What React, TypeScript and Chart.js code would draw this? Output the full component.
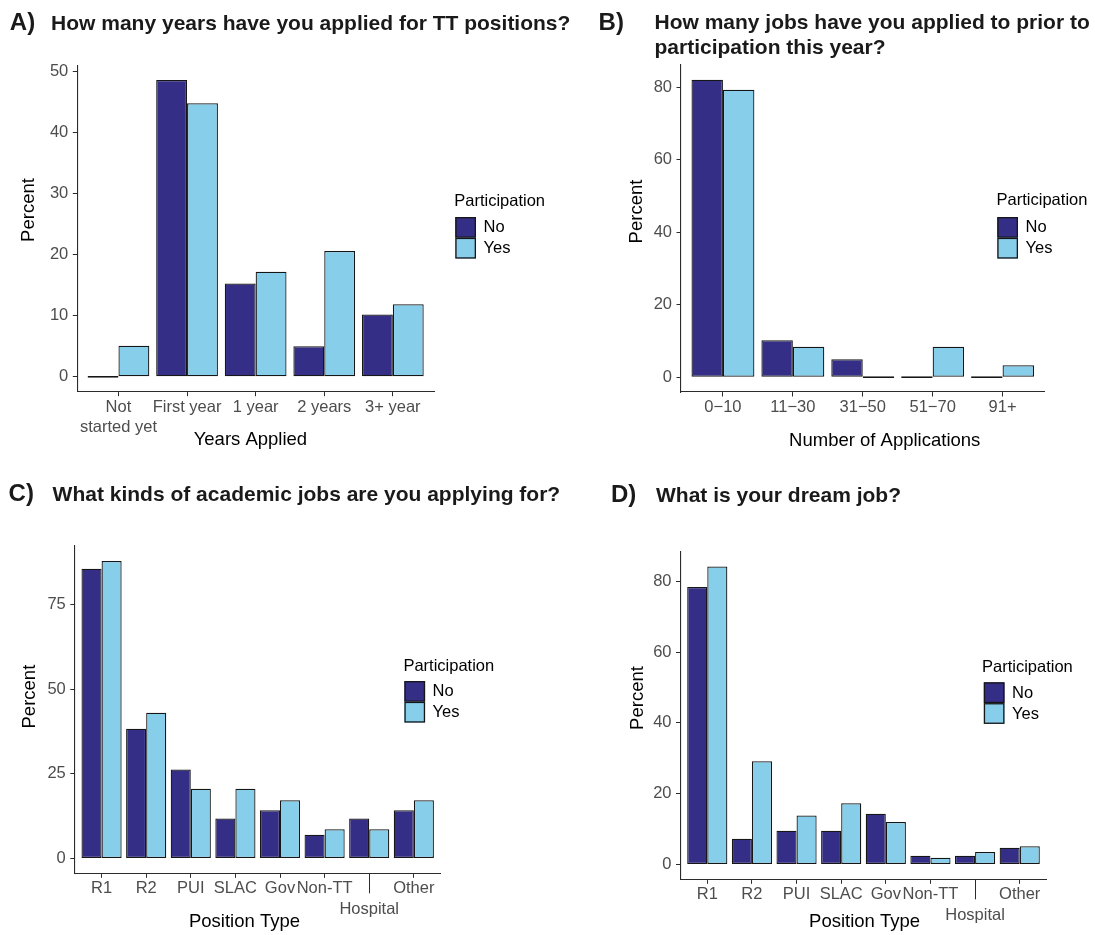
import React, { useEffect, useRef } from "react";
import { Chart, registerables } from "chart.js";

Chart.register(...registerables);

const FONT = '"Liberation Sans", Arial, Helvetica, sans-serif';
Chart.defaults.font.family = FONT;

// ---------- data ----------
const participation = ["No", "Yes"];

const yearsLabels: (string | string[])[] = [["Not", "started yet"], "First year", "1 year", "2 years", "3+ year"];
const yearsNo = [0, 48.6, 15.3, 5.0, 10.2];
const yearsYes = [5.1, 44.8, 17.2, 20.6, 11.9];
const yearsTicks = [0, 10, 20, 30, 40, 50];

const appsLabels: (string | string[])[] = ["0\u221210", "11\u221230", "31\u221250", "51\u221270", "91+"];
const appsNo = [82.0, 10.2, 4.9, 0, 0];
const appsYes = [79.3, 8.4, 0, 8.4, 3.3];
const appsTicks = [0, 20, 40, 60, 80];

const positionLabels: (string | string[])[] = ["R1", "R2", "PUI", "SLAC", "Gov", "Non-TT", ["", "Hospital"], "Other"];
const applyNo = [85.6, 38.3, 26.3, 11.8, 14.2, 7.0, 11.8, 14.2];
const applyYes = [87.9, 43.0, 20.6, 20.6, 17.2, 8.6, 8.6, 17.2];
const applyTicks = [0, 25, 50, 75];

const dreamNo = [78.4, 7.25, 9.5, 9.5, 14.3, 2.45, 2.45, 4.7];
const dreamYes = [84.2, 29.2, 13.8, 17.3, 12.0, 1.9, 3.5, 5.1];
const dreamTicks = [0, 20, 40, 60, 80];

// ---------- styles ----------
const NO_COLOR = "#342E86";
const YES_COLOR = "#87CEEB";
const EDGE = "#161616";
const AXIS = "#2B2B2B";
const TICK_TEXT = "#4D4D4D";
const TITLE_TEXT = "#1A1A1A";
const PAGE_W = 1095;
const PAGE_H = 935;

type TextItem = {
  text: string;
  x: number;
  y: number;
  size: number;
  bold?: boolean;
  color?: string;
  align?: CanvasTextAlign;
  rotate?: boolean;
};

const textPlugin = {
  id: "panelTexts",
  afterDraw(chart: any, _a: any, opts: any) {
    const ctx = chart.ctx as CanvasRenderingContext2D;
    const items = opts.items || [];
    for (let i = 0; i < items.length; i++) {
      const t = items[i];
      ctx.save();
      ctx.font = `${t.bold ? "bold " : ""}${t.size}px ${FONT}`;
      ctx.fillStyle = t.color || "#000";
      ctx.textBaseline = "alphabetic";
      ctx.textAlign = t.align || "left";
      if (t.rotate) {
        ctx.translate(t.x, t.y);
        ctx.rotate(-Math.PI / 2);
        ctx.fillText(t.text, 0, 0);
      } else {
        ctx.fillText(t.text, t.x, t.y);
      }
      ctx.restore();
    }
  },
};

const legendPlugin = {
  id: "ggLegend",
  afterDraw(chart: any, _a: any, o: any) {
    const ctx = chart.ctx as CanvasRenderingContext2D;
    ctx.save();
    ctx.font = `16.5px ${FONT}`;
    ctx.textAlign = "left";
    ctx.textBaseline = "alphabetic";
    ctx.fillStyle = "#000";
    ctx.fillText(o.title, o.titleX, o.titleY);
    chart.data.datasets.forEach((ds: any, i: number) => {
      const top = o.boxTop + i * o.boxH;
      ctx.fillStyle = ds.backgroundColor;
      ctx.fillRect(o.boxX, top, o.boxW, o.boxH);
      ctx.strokeStyle = ds.borderColor;
      ctx.lineWidth = 1.3;
      ctx.strokeRect(o.boxX + 0.65, top + 0.65, o.boxW - 1.3, o.boxH - 1.3);
      ctx.fillStyle = "#000";
      ctx.fillText(ds.label, o.boxX + o.boxW + 7.5, top + o.boxH / 2 + 5);
    });
    ctx.restore();
  },
};

const longTickPlugin = {
  id: "longTick",
  afterDraw(chart: any, _a: any, o: any) {
    if (o.index === undefined || o.index === null || o.index < 0) return;
    const ctx = chart.ctx as CanvasRenderingContext2D;
    const xs = chart.scales.x;
    const px = Math.round(xs.getPixelForValue(o.index)) + 0.5;
    const y0 = chart.chartArea.bottom;
    ctx.save();
    ctx.strokeStyle = AXIS;
    ctx.lineWidth = 1;
    ctx.beginPath();
    ctx.moveTo(px, y0);
    ctx.lineTo(px, y0 + o.length);
    ctx.stroke();
    ctx.restore();
  },
};

type LegendPos = { titleX: number; titleY: number; boxX: number; boxTop: number };

type PanelCfg = {
  area: [number, number, number, number];
  labels: (string | string[])[];
  no: number[];
  yes: number[];
  yTicks: number[];
  texts: TextItem[];
  legend: LegendPos;
  longTick?: number;
};

function Panel({ cfg }: { cfg: PanelCfg }) {
  const ref = useRef<HTMLCanvasElement | null>(null);
  useEffect(() => {
    if (!ref.current) return;
    const [al, at, ar, ab] = cfg.area;
    const yW = 40;
    const xH = 50;
    const maxV = Math.max(...cfg.no, ...cfg.yes);
    const n = cfg.labels.length;
    const tickFont = { family: FONT, size: 16.5, lineHeight: 1.22 };
    const mk = (label: string, vals: number[], color: string) => ({
      label,
      data: vals.map((v, i) => ({ x: i, y: v })),
      backgroundColor: color,
      borderColor: EDGE,
      borderWidth: 1.25,
      borderSkipped: false,
      categoryPercentage: 0.9,
      barPercentage: 1,
      minBarLength: 1.6,
    });
    const chart = new Chart(ref.current, {
      type: "bar",
      data: {
        datasets: [mk(participation[0], cfg.no, NO_COLOR), mk(participation[1], cfg.yes, YES_COLOR)],
      },
      options: {
        responsive: false,
        maintainAspectRatio: false,
        animation: false,
        devicePixelRatio: 1,
        events: [],
        layout: {
          padding: {
            left: al - yW,
            top: at,
            right: PAGE_W - ar,
            bottom: PAGE_H - ab - xH,
          },
        },
        scales: {
          x: {
            type: "linear",
            offset: false,
            min: -0.6,
            max: n - 1 + 0.6,
            bounds: "data",
            afterBuildTicks: (s: any) => {
              s.ticks = cfg.labels.map((_, i) => ({ value: i }));
            },
            afterFit: (s: any) => {
              s.height = xH;
            },
            ticks: {
              autoSkip: false,
              maxRotation: 0,
              minRotation: 0,
              padding: 1,
              color: TICK_TEXT,
              font: tickFont,
              callback: (v: any) => cfg.labels[Math.round(Number(v))] as any,
            },
            grid: {
              display: true,
              offset: false,
              drawOnChartArea: false,
              drawTicks: true,
              tickLength: 4.5,
              color: AXIS,
              lineWidth: 1,
            },
            border: { display: true, color: AXIS, width: 1.1 },
          },
          y: {
            type: "linear",
            min: -0.05 * maxV,
            max: 1.05 * maxV,
            bounds: "data",
            afterBuildTicks: (s: any) => {
              s.ticks = cfg.yTicks.map((v) => ({ value: v }));
            },
            afterFit: (s: any) => {
              s.width = yW;
            },
            ticks: { padding: 4.5, color: TICK_TEXT, font: tickFont },
            grid: { display: true, drawOnChartArea: false, drawTicks: true, tickLength: 4.5, color: AXIS, lineWidth: 1 },
            border: { display: true, color: AXIS, width: 1.1 },
          },
        },
        plugins: {
          legend: { display: false },
          tooltip: { enabled: false },
          title: { display: false },
          panelTexts: { items: cfg.texts },
          ggLegend: {
            title: "Participation",
            titleX: cfg.legend.titleX,
            titleY: cfg.legend.titleY,
            boxX: cfg.legend.boxX,
            boxTop: cfg.legend.boxTop,
            boxW: 20.7,
            boxH: 20.8,
          },
          longTick: { index: cfg.longTick === undefined ? -1 : cfg.longTick, length: 20 },
        } as any,
      } as any,
      plugins: [textPlugin, legendPlugin, longTickPlugin],
    });
    return () => chart.destroy();
  }, [cfg]);
  return (
    <canvas
      ref={ref}
      width={PAGE_W}
      height={PAGE_H}
      style={{ position: "absolute", left: 0, top: 0, width: PAGE_W, height: PAGE_H }}
    />
  );
}

const T = (text: string, x: number, y: number, size: number, extra: Partial<TextItem> = {}): TextItem => ({
  text,
  x,
  y,
  size,
  ...extra,
});

const panels: PanelCfg[] = [
  {
    area: [77.3, 65.2, 434, 391.7],
    labels: yearsLabels,
    no: yearsNo,
    yes: yearsYes,
    yTicks: yearsTicks,
    texts: [
      T("A)", 9.8, 29.5, 24, { bold: true, color: TITLE_TEXT }),
      T("How many years have you applied for TT positions?", 51.1, 29.5, 21, { bold: true, color: TITLE_TEXT }),
      T("Percent", 33.8, 210, 18.5, { rotate: true, align: "center" }),
      T("Years Applied", 250.4, 445.4, 18.5, { align: "center" }),
    ],
    legend: { titleX: 454.2, titleY: 206, boxX: 455.3, boxTop: 217 },
  },
  {
    area: [681, 65, 1044.5, 392],
    labels: appsLabels,
    no: appsNo,
    yes: appsYes,
    yTicks: appsTicks,
    texts: [
      T("B)", 598.6, 29.5, 24, { bold: true, color: TITLE_TEXT }),
      T("How many jobs have you applied to prior to", 654.5, 29, 21, { bold: true, color: TITLE_TEXT }),
      T("participation this year?", 654.5, 53.5, 21, { bold: true, color: TITLE_TEXT }),
      T("Percent", 641.5, 211.5, 18.5, { rotate: true, align: "center" }),
      T("Number of Applications", 884.7, 445.7, 18.5, { align: "center" }),
    ],
    legend: { titleX: 996.6, titleY: 205, boxX: 997.3, boxTop: 217 },
  },
  {
    area: [74.8, 546, 440.6, 873.3],
    labels: positionLabels,
    no: applyNo,
    yes: applyYes,
    yTicks: applyTicks,
    texts: [
      T("C)", 8.6, 500.5, 24, { bold: true, color: TITLE_TEXT }),
      T("What kinds of academic jobs are you applying for?", 52.6, 500.5, 21, { bold: true, color: TITLE_TEXT }),
      T("Percent", 34.5, 696.6, 18.5, { rotate: true, align: "center" }),
      T("Position Type", 244.5, 927.4, 18.5, { align: "center" }),
    ],
    legend: { titleX: 403.4, titleY: 671, boxX: 404.4, boxTop: 681 },
    longTick: 6,
  },
  {
    area: [680.5, 551.7, 1046.5, 879.3],
    labels: positionLabels,
    no: dreamNo,
    yes: dreamYes,
    yTicks: dreamTicks,
    texts: [
      T("D)", 610.9, 501.5, 24, { bold: true, color: TITLE_TEXT }),
      T("What is your dream job?", 656, 501.5, 21, { bold: true, color: TITLE_TEXT }),
      T("Percent", 643, 698, 18.5, { rotate: true, align: "center" }),
      T("Position Type", 864.6, 926.7, 18.5, { align: "center" }),
    ],
    legend: { titleX: 982, titleY: 671.5, boxX: 983.8, boxTop: 682.3 },
    longTick: 6,
  },
];

export default function App() {
  return (
    <div
      style={{
        position: "absolute",
        left: 0,
        top: 0,
        width: PAGE_W,
        height: PAGE_H,
        background: "#fff",
        overflow: "hidden",
      }}
    >
      {panels.map((p, i) => (
        <Panel key={i} cfg={p} />
      ))}
    </div>
  );
}
